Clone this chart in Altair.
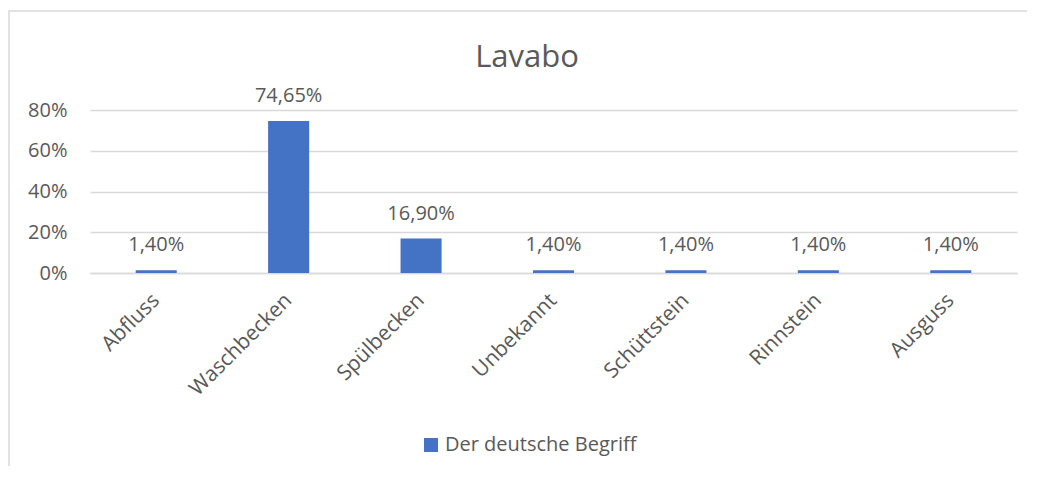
import altair as alt
import pandas as pd

categories = ["Abfluss", "Waschbecken", "Spülbecken", "Unbekannt", "Schüttstein", "Rinnstein", "Ausguss"]
values = [1.40, 74.65, 16.90, 1.40, 1.40, 1.40, 1.40]
series_name = "Der deutsche Begriff"
chart_title = "Lavabo"
y_ticks = [0, 20, 40, 60, 80]

df = pd.DataFrame({
    "Begriff": categories,
    "Anteil": values,
    "Serie": [series_name] * len(categories),
})
df["Label"] = [f"{v:.2f}%".replace(".", ",") for v in values]

FONT = "Open Sans"
TXT = "#595959"
GRID = "#d9d9d9"
FS = 20
W, H = 927, 163

x_enc = alt.X(
    "Begriff:N", sort=categories, title=None,
    scale=alt.Scale(paddingInner=0.69, paddingOuter=0.345),
    axis=alt.Axis(labelAngle=-45, labelAlign="right", labelBaseline="middle",
                  labelPadding=24, ticks=False, domainColor=GRID, domainWidth=1.5,
                  labelFont=FONT, labelFontSize=21, labelColor=TXT),
)
y_enc = alt.Y(
    "Anteil:Q", title=None,
    scale=alt.Scale(domain=[0, 80], nice=False),
    axis=alt.Axis(values=y_ticks, labelExpr="datum.value + '%'", domain=False, ticks=False,
                  gridColor=GRID, gridWidth=1.5, labelPadding=23,
                  labelFont=FONT, labelFontSize=FS, labelColor=TXT),
)

bars = alt.Chart(df).mark_bar(color="#4472C4").encode(
    x=x_enc,
    y=y_enc,
    color=alt.Color("Serie:N", scale=alt.Scale(range=["#4472C4"]), title=None,
                    legend=alt.Legend(orient="none", legendX=331, legendY=325,
                                      symbolType="square", symbolSize=196,
                                      symbolStrokeWidth=0, labelFont=FONT,
                                      labelFontSize=FS, labelColor=TXT,
                                      labelOffset=4, labelLimit=400)),
)

labels = alt.Chart(df).mark_text(
    font=FONT, fontSize=FS, color=TXT, baseline="alphabetic", dy=-19
).encode(
    x=alt.X("Begriff:N", sort=categories),
    y="Anteil:Q",
    text="Label:N",
)

one_row = alt.Data(values=[{"t": chart_title}])

border = alt.Chart(one_row).mark_rect(
    fill=None, stroke=GRID, strokeWidth=1.5
).encode(
    x=alt.value(-81), x2=alt.value(W + 40),
    y=alt.value(-99), y2=alt.value(H + 300),
)

title = alt.Chart(one_row).mark_text(
    font=FONT, fontSize=31, color=TXT, baseline="alphabetic", align="center"
).encode(
    x=alt.value(437), y=alt.value(-43), text="t:N",
)

chart = alt.layer(border, bars, labels, title).properties(
    width=W, height=H,
    autosize=alt.AutoSizeParams(type="none"),
    padding={"left": 82, "top": 102, "right": 10, "bottom": 193},
).configure_view(stroke=None)

chart.save("out.html", embed_options={"renderer": "svg", "actions": False})
